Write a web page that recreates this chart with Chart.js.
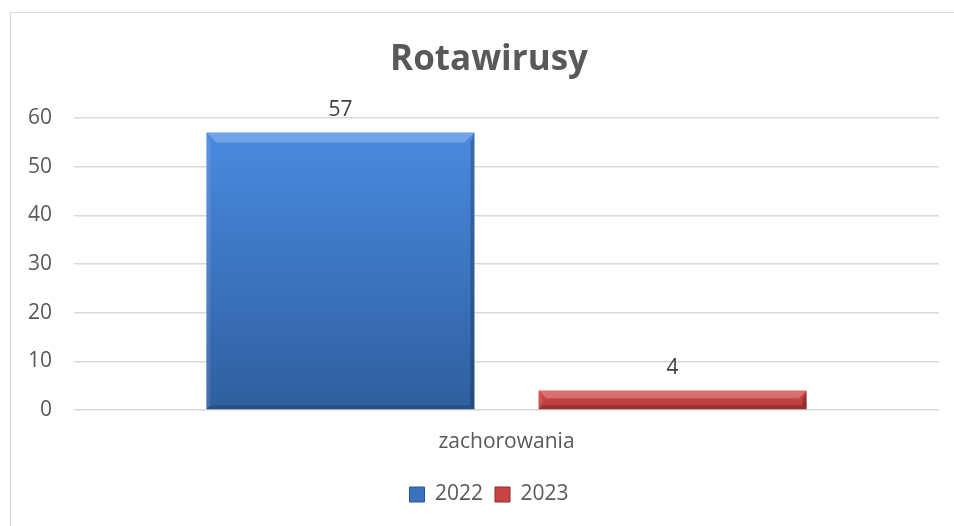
<!DOCTYPE html>
<html>
<head>
<meta charset="utf-8">
<script src="https://cdn.jsdelivr.net/npm/chart.js@4"></script>
<style>
  html, body { margin: 0; padding: 0; background: #fff; overflow: hidden; }
  #frame {
    position: absolute; left: 10px; top: 12px;
    width: 970px; height: 520px;
    border: 1px solid #d9d9d9;
  }
</style>
</head>
<body>
<div id="frame"><canvas id="chart" width="970" height="520"></canvas></div>
<script>
// data
const categories = ['zachorowania'];
const seriesNames = ['2022', '2023'];
const values2022 = [57];
const values2023 = [4];
const yTicks = [0, 10, 20, 30, 40, 50, 60];

const FONT = "'Open Sans', sans-serif";
const TEXT = '#595959';

const palette = {
  '2022': { top: '#4a8ae0', bottom: '#2e5f9f', solid: '#3a72c0', edge: '#2a5690' },
  '2023': { top: '#d64c4c', bottom: '#b03838', solid: '#c84444', edge: '#8e2a2a' }
};

// gradient running from the top of each bar to its base
function barGradient(name) {
  return function (ctx) {
    const chart = ctx.chart;
    const c = palette[name];
    if (!chart.chartArea || ctx.raw === undefined) return c.solid;
    const y = chart.scales.y;
    const top = y.getPixelForValue(ctx.raw);
    const base = y.getPixelForValue(0);
    const g = chart.ctx.createLinearGradient(0, top, 0, base);
    g.addColorStop(0, c.top);
    g.addColorStop(1, c.bottom);
    return g;
  };
}

// bevelled edges like an office chart
const bevel = {
  id: 'bevel',
  afterDatasetsDraw(chart) {
    const ctx = chart.ctx;
    chart.data.datasets.forEach((ds, i) => {
      chart.getDatasetMeta(i).data.forEach(bar => {
        const l = bar.x - bar.width / 2, r = bar.x + bar.width / 2;
        const t = bar.y, b = bar.base;
        const s = Math.min(10, (b - t) / 2.4);
        const k = Math.min(4, s);
        ctx.save();
        // top face
        ctx.fillStyle = 'rgba(255,255,255,0.22)';
        ctx.beginPath();
        ctx.moveTo(l, t); ctx.lineTo(r, t); ctx.lineTo(r - s, t + s); ctx.lineTo(l + s, t + s);
        ctx.closePath(); ctx.fill();
        // left face
        ctx.fillStyle = 'rgba(255,255,255,0.10)';
        ctx.beginPath();
        ctx.moveTo(l, t); ctx.lineTo(l + k, t + s); ctx.lineTo(l + k, b - k); ctx.lineTo(l, b);
        ctx.closePath(); ctx.fill();
        // right face
        ctx.fillStyle = 'rgba(0,0,0,0.22)';
        ctx.beginPath();
        ctx.moveTo(r, t); ctx.lineTo(r - k, t + s); ctx.lineTo(r - k, b - k); ctx.lineTo(r, b);
        ctx.closePath(); ctx.fill();
        // bottom face
        ctx.fillStyle = 'rgba(0,0,0,0.16)';
        ctx.beginPath();
        ctx.moveTo(l, b); ctx.lineTo(l + k, b - k); ctx.lineTo(r - k, b - k); ctx.lineTo(r, b);
        ctx.closePath(); ctx.fill();
        ctx.restore();
      });
    });
  }
};

// value labels above the bars
const valueLabels = {
  id: 'valueLabels',
  afterDatasetsDraw(chart) {
    const ctx = chart.ctx;
    ctx.save();
    ctx.font = '21px ' + FONT;
    ctx.fillStyle = '#404040';
    ctx.textAlign = 'center';
    ctx.textBaseline = 'bottom';
    chart.data.datasets.forEach((ds, i) => {
      chart.getDatasetMeta(i).data.forEach((bar, j) => {
        ctx.fillText(String(ds.data[j]), bar.x, bar.y - 12);
      });
    });
    ctx.restore();
  }
};

new Chart(document.getElementById('chart'), {
  type: 'bar',
  data: {
    labels: categories,
    datasets: [
      { label: seriesNames[0], data: values2022, backgroundColor: barGradient('2022'),
        categoryPercentage: 0.768, barPercentage: 0.807 },
      { label: seriesNames[1], data: values2023, backgroundColor: barGradient('2023'),
        categoryPercentage: 0.768, barPercentage: 0.807 }
    ]
  },
  options: {
    responsive: false,
    animation: false,
    layout: { padding: { left: 14, right: 28, top: 0, bottom: 18 } },
    scales: {
      x: {
        grid: { display: false },
        border: { display: false },
        ticks: { color: TEXT, font: { family: FONT, size: 21 }, padding: 11 },
        afterFit(scale) { scale.height = 62; }
      },
      y: {
        min: 0, max: 60,
        afterBuildTicks(scale) { scale.ticks = yTicks.map(v => ({ value: v })); },
        grid: { color: '#d9d9d9', lineWidth: 1.5, drawTicks: false },
        border: { display: false },
        ticks: { color: TEXT, font: { family: FONT, size: 21 }, padding: 22 },
        afterFit(scale) { scale.width = 49; }
      },
      // empty spacer on the right so the title and legend sit centred like the original
      spacer: {
        type: 'linear', position: 'right', display: true,
        grid: { display: false }, border: { display: false },
        ticks: { display: false },
        afterFit(scale) { scale.width = 14; }
      }
    },
    plugins: {
      title: {
        display: true, text: 'Rotawirusy', color: TEXT,
        font: { family: FONT, size: 35, weight: 'bold' },
        padding: { top: 26, bottom: 37 }
      },
      legend: {
        position: 'bottom',
        labels: {
          color: TEXT, font: { family: FONT, size: 21 },
          boxWidth: 15, boxHeight: 15, padding: 12,
          generateLabels(chart) {
            return chart.data.datasets.map((ds, i) => ({
              text: ds.label,
              fillStyle: palette[ds.label].solid,
              strokeStyle: palette[ds.label].edge,
              lineWidth: 1,
              datasetIndex: i,
              fontColor: TEXT
            }));
          }
        }
      },
      tooltip: { enabled: false }
    }
  },
  plugins: [bevel, valueLabels]
});
</script>
</body>
</html>
